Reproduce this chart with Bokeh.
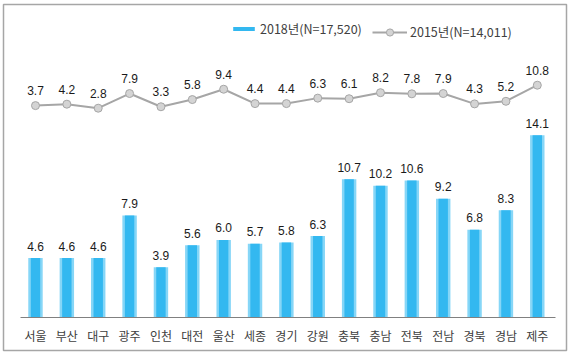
from bokeh.plotting import figure
from bokeh.models import Range1d, LinearAxis, FixedTicker, Legend, LegendItem, ColumnDataSource
from bokeh.core.properties import value
from bokeh.embed import file_html
from bokeh.resources import INLINE

regions = ["서울", "부산", "대구", "광주", "인천", "대전", "울산", "세종", "경기",
           "강원", "충북", "충남", "전북", "전남", "경북", "경남", "제주"]
v2018 = [4.6, 4.6, 4.6, 7.9, 3.9, 5.6, 6.0, 5.7, 5.8, 6.3, 10.7, 10.2, 10.6, 9.2, 6.8, 8.3, 14.1]
v2015 = [3.7, 4.2, 2.8, 7.9, 3.3, 5.8, 9.4, 4.4, 4.4, 6.3, 6.1, 8.2, 7.8, 7.9, 4.3, 5.2, 10.8]
label_2018 = "2018년(N=17,520)"
label_2015 = "2015년(N=14,011)"

xs = list(range(len(regions)))
src = ColumnDataSource(dict(
    x=xs, v18=v2018, v15=v2015,
    l18=[f"{v:.1f}" for v in v2018],
    l15=[f"{v:.1f}" for v in v2015],
))

p = figure(width=571, height=355, output_backend="svg", toolbar_location=None,
           x_range=Range1d(-1.020, 16.931), y_range=Range1d(-2.554, 24.23),
           x_axis_location=None, y_axis_location=None,
           min_border_left=3, min_border_right=5, min_border_top=4, min_border_bottom=5,
           outline_line_color="#A6A6A6", outline_line_width=1.5,
           background_fill_color="white", border_fill_color="white")
p.extra_y_ranges = {"line": Range1d(-81.48, 38.87)}
p.grid.visible = False

# bars (two layers to suggest the gradient)
p.vbar(x="x", top="v18", bottom=0, width=0.46, source=src,
       fill_color="#86D6F7", line_color=None)
bars = p.vbar(x="x", top="v18", bottom=0, width=0.30, source=src,
              fill_color="#33B8F0", line_color=None)

p.text(x="x", y="v18", text="l18", source=src, y_offset=-12,
       text_align="center", text_baseline="middle",
       text_font=value("Liberation Sans"), text_font_size="12px", text_color="#1a1a1a")

# line series on its own scale
ln = p.line(x="x", y="v15", source=src, y_range_name="line",
            line_color="#A6A6A6", line_width=2)
pts = p.scatter(x="x", y="v15", source=src, y_range_name="line", size=8,
                fill_color="#D4D4D4", line_color="#A6A6A6", line_width=1)
p.text(x="x", y="v15", text="l15", source=src, y_range_name="line", y_offset=-15,
       text_align="center", text_baseline="middle",
       text_font=value("Liberation Sans"), text_font_size="12px", text_color="#1a1a1a")

xaxis = LinearAxis(fixed_location=0, ticker=FixedTicker(ticks=xs),
                   major_label_overrides={i: r for i, r in enumerate(regions)},
                   bounds=(-0.48, 16.58), axis_line_color="#808080", axis_line_width=1,
                   major_tick_line_color=None, minor_tick_line_color=None,
                   major_tick_in=0, major_tick_out=0, major_label_standoff=9,
                   major_label_text_font="Noto Sans CJK KR",
                   major_label_text_font_size="12px",
                   major_label_text_color="#404040")
p.add_layout(xaxis, "below")

leg1 = Legend(items=[LegendItem(label=label_2018, renderers=[bars])],
              location=(227, 312), orientation="horizontal",
              glyph_width=27, glyph_height=5, label_height=12, label_standoff=3,
              padding=0, margin=0, border_line_color=None, background_fill_alpha=0,
              label_text_font="Noto Sans CJK KR", label_text_font_size="12.5px",
              label_text_color="#404040")
leg2 = Legend(items=[LegendItem(label=label_2015, renderers=[ln, pts])],
              location=(369, 309), orientation="horizontal",
              glyph_width=35, glyph_height=18, label_height=12, label_standoff=3,
              padding=0, margin=0, border_line_color=None, background_fill_alpha=0,
              label_text_font="Noto Sans CJK KR", label_text_font_size="12.5px",
              label_text_color="#404040")
p.add_layout(leg1)
p.add_layout(leg2)

open("out.html", "w").write(file_html(p, INLINE))
